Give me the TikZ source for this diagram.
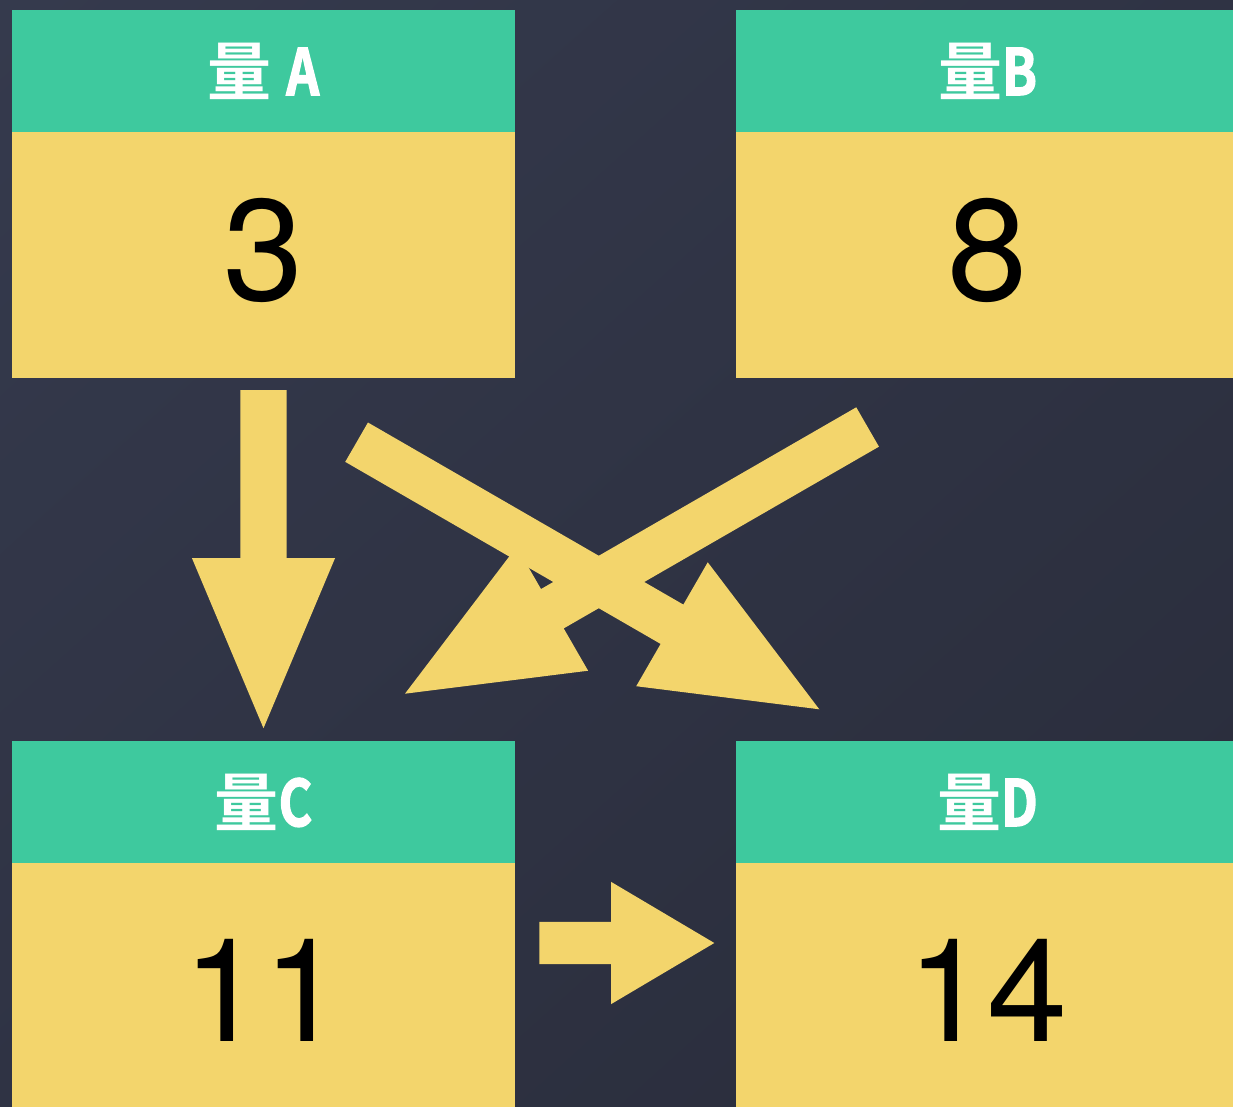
\documentclass[tikz,border=0pt]{standalone}
\usepackage{fontspec}
\setmainfont{TeX Gyre Heros}
\newfontfamily\headfont{Noto Sans CJK SC Bold}
\newfontfamily\headlat{Noto Sans CJK SC Bold}[FakeStretch=0.8, FakeBold=2]
\usetikzlibrary{calc}
\usetikzlibrary{positioning}
\usetikzlibrary{shadings}

\definecolor{bgtop}{HTML}{353A4D}
\definecolor{bgmid}{HTML}{2F3344}
\definecolor{bgbot}{HTML}{292C3A}
\definecolor{headgreen}{HTML}{3EC99E}
\definecolor{bodyyellow}{HTML}{F3D56C}

% from, to, shaft half width, head half width, head length
\newcommand{\blockarrow}[5]{%
  \coordinate (hb) at ($(#2)!#5!(#1)$);
  \fill[bodyyellow] ($(#1)!#3!90:(#2)$) -- ($(hb)!#3!90:(#2)$) -- ($(hb)!#4!90:(#2)$) -- (#2)
    -- ($(hb)!#4!-90:(#2)$) -- ($(hb)!#3!-90:(#2)$) -- ($(#1)!#3!-90:(#2)$) -- cycle;
}

\begin{document}
\begin{tikzpicture}[x=0.01cm,y=-0.01cm,
  head/.style={fill=headgreen, minimum width=5.03cm, minimum height=1.22cm, inner sep=0pt,
    text=white, font=\headfont\fontsize{18.2}{20}\selectfont},
  body/.style={fill=bodyyellow, minimum width=5.03cm, minimum height=2.45cm, inner sep=0pt,
    font=\fontsize{41}{42}\selectfont}]
\clip (0,0) rectangle (1233,1107);
\shade[upper left=bgtop, upper right=bgmid, lower left=bgmid, lower right=bgbot] (0,0) rectangle (1233,1107);

\node[head] (hA) at (263.5,71) {量 {\headlat A}};
\node[body, below=-0.3pt of hA, text depth=0.12cm] (A) {3};
\node[head] (hB) at (987.5,71) {量{\headlat B}};
\node[body, below=-0.3pt of hB, text depth=0.12cm] (B) {8};
\node[head] (hC) at (263.5,802) {量{\headlat C}};
\node[body, below=-0.3pt of hC, text height=1.12cm] (C) {11};
\node[head] (hD) at (987.5,802) {量{\headlat D}};
\node[body, below=-0.3pt of hD, text height=1.12cm] (D) {14};

\coordinate (ac-s) at ([yshift=-0.12cm]A.south);
\coordinate (ac-t) at ([yshift=0.12cm]hC.north);
\coordinate (ad-s) at (356.6,442.2);
\coordinate (ad-t) at (819.3,709.3);
\coordinate (bc-s) at (867.6,427);
\coordinate (bc-t) at (405,693.7);
\coordinate (cd-s) at (539.3,943);
\coordinate (cd-t) at (714.3,943);

\blockarrow{ac-s}{ac-t}{0.23cm}{0.715cm}{1.7cm}
\blockarrow{ad-s}{ad-t}{0.227cm}{0.715cm}{1.7cm}
\blockarrow{bc-s}{bc-t}{0.227cm}{0.715cm}{1.7cm}
\blockarrow{cd-s}{cd-t}{0.21cm}{0.61cm}{1.03cm}

\end{tikzpicture}
\end{document}
